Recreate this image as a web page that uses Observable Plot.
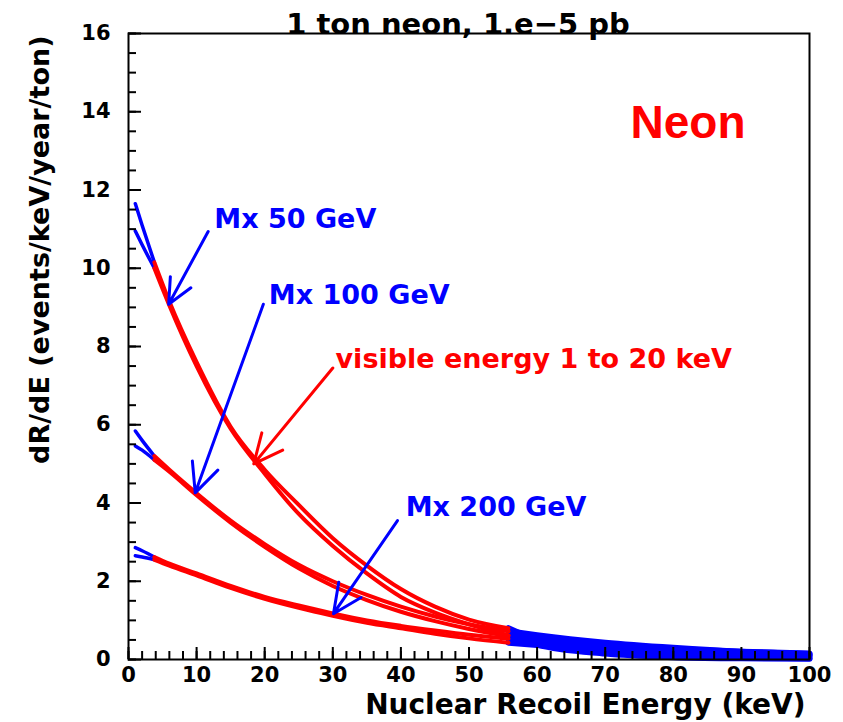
<!DOCTYPE html>
<html><head><meta charset="utf-8">
<script src="https://cdn.jsdelivr.net/npm/d3@7"></script>
<script src="https://cdn.jsdelivr.net/npm/@observablehq/plot@0.6"></script>
<style>body{margin:0;background:#fff}</style>
</head><body><div id="chart"></div>
<script>
// Nuclear recoil energy grid (keV)
const energy = [1, 2, 3.8, 6, 10, 15, 20, 25, 30, 35, 40, 45, 50, 55.8, 60, 70, 80, 90, 100];
// dR/dE (events/keV/year/ton), two curves per WIMP mass
const mx50a  = [11.65, 11.1, 10.15, 9.15, 7.6, 5.95, 4.85, 3.95, 3.1, 2.4, 1.8, 1.35, 1.02, 0.8, 0.5, 0.22, 0.1, 0.05, 0.03];
const mx50b  = [10.95, 10.6, 10.0, 9.05, 7.5, 5.9, 4.75, 3.72, 2.9, 2.2, 1.6, 1.2, 0.9, 0.62, 0.38, 0.15, 0.06, 0.03, 0.02];
const mx100a = [5.84, 5.6, 5.2, 4.85, 4.25, 3.55, 2.95, 2.42, 2.0, 1.65, 1.35, 1.1, 0.9, 0.72, 0.62, 0.43, 0.3, 0.2, 0.14];
const mx100b = [5.46, 5.35, 5.1, 4.8, 4.2, 3.5, 2.88, 2.33, 1.88, 1.52, 1.22, 0.98, 0.78, 0.6, 0.5, 0.34, 0.23, 0.15, 0.1];
const mx200a = [2.86, 2.78, 2.62, 2.45, 2.2, 1.88, 1.6, 1.38, 1.18, 1.0, 0.86, 0.74, 0.63, 0.53, 0.47, 0.36, 0.27, 0.2, 0.15];
const mx200b = [2.65, 2.62, 2.55, 2.4, 2.15, 1.83, 1.55, 1.32, 1.12, 0.94, 0.8, 0.66, 0.54, 0.43, 0.37, 0.27, 0.19, 0.13, 0.09];
const curveNames = ["50a", "50b", "100a", "100b", "200a", "200b"];
const curveValues = [mx50a, mx50b, mx100a, mx100b, mx200a, mx200b];
// visible-energy window (1 to 20 keV visible) in nuclear recoil energy
const visibleLow = 3.8, visibleHigh = 55.8;

// annotations
const labelText = ["Mx 50 GeV", "Mx 100 GeV", "visible energy 1 to 20 keV", "Mx 200 GeV"];
const labelColor = ["#0000ff", "#0000ff", "#ff0000", "#0000ff"];
const labelE = [12.6, 20.6, 30.4, 40.7];
const labelY = [11.25, 9.31, 7.68, 3.88];
const arrowFromE = [11.7, 19.8, 30.0, 39.5];
const arrowFromY = [10.94, 9.08, 7.45, 3.55];
const arrowToE = [5.9, 9.8, 18.4, 30.1];
const arrowToY = [9.08, 4.26, 5.0, 1.17];

const xMajor = d3.range(0, 101, 10);
const xMinor = d3.range(0, 101, 2);
const yMajor = d3.range(0, 17, 2);
const yMinor = d3.range(0, 16.01, 0.5);

const rows = [];
curveNames.forEach((name, k) => {
  energy.forEach((E, i) => {
    const v = curveValues[k][i];
    if (E <= visibleLow) rows.push({E, v, key: name + "-lo", part: "lo"});
    if (E >= visibleLow && E <= visibleHigh) rows.push({E, v, key: name + "-vis", part: "vis"});
    if (E >= visibleHigh) rows.push({E, v, key: name + "-hi", part: "hi"});
  });
});
const labels = labelText.map((t, i) => ({t, c: labelColor[i], x: labelE[i], y: labelY[i]}));
const arrows = arrowFromE.map((e, i) => ({x1: e, y1: arrowFromY[i], x2: arrowToE[i], y2: arrowToY[i], c: labelColor[i]}));

const W = 843, H = 722, mT = 33, mL = 128, mR = 34, mB = 63;
const innerW = W - mL - mR, innerH = H - mT - mB;
const font = "DejaVu Sans";
const plot = Plot.plot({
  width: W, height: H,
  marginTop: mT, marginLeft: mL, marginRight: mR, marginBottom: mB,
  x: {domain: [0, 100], axis: null},
  y: {domain: [0, 16], axis: null},
  color: {type: "identity"},
  style: {fontFamily: font, fontWeight: "bold", background: "#fff", overflow: "visible"},
  marks: [
    Plot.line(rows.filter(d => d.part === "lo"), {x: "E", y: "v", z: "key", stroke: "#0000ff", strokeWidth: 3.5, curve: "monotone-x"}),
    Plot.line(rows.filter(d => d.part === "hi"), {x: "E", y: "v", z: "key", stroke: "#0000ff", strokeWidth: 6, curve: "monotone-x"}),
    Plot.line(rows.filter(d => d.part === "vis"), {x: "E", y: "v", z: "key", stroke: "#ff0000", strokeWidth: 4, curve: "monotone-x"}),
    Plot.arrow(arrows, {x1: "x1", y1: "y1", x2: "x2", y2: "y2", stroke: "c", strokeWidth: 3, headLength: 16, headAngle: 50}),
    Plot.text(labels, {x: "x", y: "y", text: "t", fill: "c", textAnchor: "start", fontSize: 27, fontWeight: "bold", fontFamily: font}),
    // inward tick marks
    Plot.tickY(yMinor, {y: d => d, insetRight: innerW - 8, stroke: "#000", strokeWidth: 2}),
    Plot.tickY(yMajor, {y: d => d, insetRight: innerW - 13, stroke: "#000", strokeWidth: 2}),
    Plot.tickX(xMinor, {x: d => d, insetTop: innerH - 8, stroke: "#000", strokeWidth: 2}),
    Plot.tickX(xMajor, {x: d => d, insetTop: innerH - 12, stroke: "#000", strokeWidth: 2}),
    Plot.axisY({ticks: yMajor, tickSize: 0, tickPadding: 18, fontSize: 21, fontWeight: "bold", fontFamily: font, fill: "#000"}),
    Plot.axisX({ticks: xMajor, tickSize: 0, tickPadding: 8, fontSize: 21, fontWeight: "bold", fontFamily: font, fill: "#000"}),
    Plot.frame({stroke: "#000", strokeWidth: 2}),
    Plot.text(["1 ton neon, 1.e\u22125 pb"], {frameAnchor: "top", lineAnchor: "bottom", dx: -11, dy: 0, fontSize: 29, fontWeight: "bold", fontFamily: font, fill: "#000"}),
    Plot.text(["Neon"], {frameAnchor: "top-right", textAnchor: "end", lineAnchor: "bottom", dx: -64, dy: 104, fontSize: 46, fontWeight: "bold", fontFamily: "Liberation Sans", fill: "#ff0000"}),
    Plot.text(["Nuclear Recoil Energy (keV)"], {frameAnchor: "bottom-right", textAnchor: "end", lineAnchor: "bottom", dx: -4, dy: 54, fontSize: 28, fontWeight: "bold", fontFamily: font, fill: "#000"}),
    Plot.text(["dR/dE (events/keV/year/ton)"], {frameAnchor: "top-left", textAnchor: "end", lineAnchor: "middle", rotate: -90, dx: -88, dy: 2, fontSize: 27, fontWeight: "bold", fontFamily: font, fill: "#000"})
  ]
});
document.getElementById("chart").appendChild(plot);
</script>
</body></html>
